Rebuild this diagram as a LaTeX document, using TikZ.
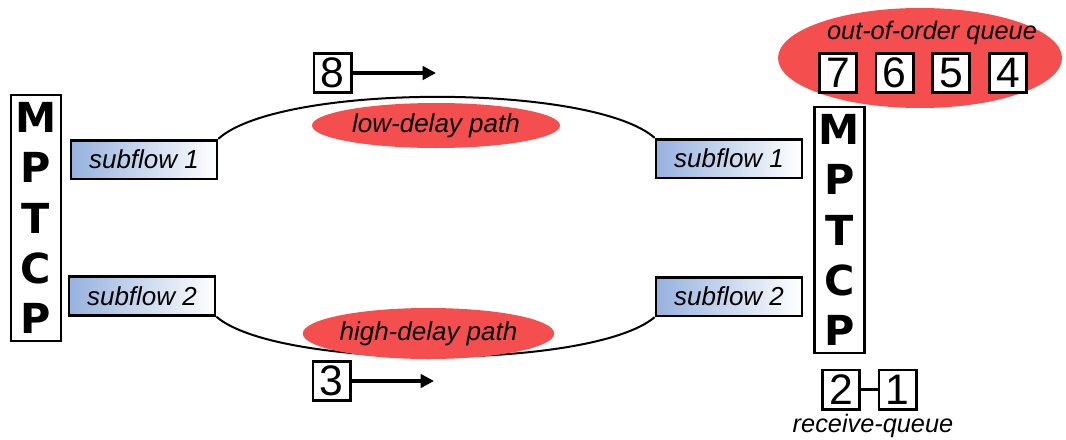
\documentclass[tikz,border=0pt]{standalone}
\usepackage{fontspec}
\setmainfont{Liberation Sans}
\newfontfamily\stackfont{DejaVu Sans}
\usetikzlibrary{shapes.geometric,arrows.meta}
\definecolor{pathred}{RGB}{245,78,78}
\definecolor{flowblue}{RGB}{150,178,222}
\tikzset{
  stackbox/.style={draw, line width=2pt, minimum width=37.5pt, minimum height=184.5pt,
    inner sep=0pt, align=center,
    font=\stackfont\bfseries\fontsize{31}{37.6}\selectfont},
  flowbox/.style={draw, line width=2pt, minimum width=109.5pt, minimum height=29pt,
    inner sep=0pt, left color=flowblue, right color=white,
    font=\itshape\fontsize{19.5}{22}\selectfont},
  pktbox/.style={draw, line width=2pt, fill=white, minimum width=28pt, minimum height=29.5pt,
    inner sep=0pt, font=\fontsize{32}{34}\selectfont},
  pathblob/.style={ellipse, fill=pathred, inner sep=0pt,
    font=\itshape\fontsize{19.5}{22}\selectfont},
  caption/.style={inner sep=0pt, font=\itshape\fontsize{19}{22}\selectfont},
  link/.style={line width=1.5pt},
  sendarrow/.style={line width=3pt, -{Triangle[length=10pt,width=10pt]}}
}
\begin{document}
\begin{tikzpicture}[x=0.75pt, y=-0.75pt]
\useasboundingbox (0,0) rectangle (1066,439);

% end points of the two connections
\node[stackbox] (mL) at (36,218) {M\\P\\T\\C\\P};
\node[stackbox] (mR) at (839.5,230) {M\\P\\T\\C\\P};

\node[flowbox] (sf1L) at (144,159.5) {subflow 1};
\node[flowbox] (sf2L) at (142,296) {subflow 2};
\node[flowbox] (sf1R) at (729,158.5) {subflow 1};
\node[flowbox] (sf2R) at (729,296.5) {subflow 2};

% the two network paths
\draw[link] (sf1L.north east) .. controls (280,83) and (592,83) .. (sf1R.north west);
\draw[link] (sf2L.south east) .. controls (278,370) and (592,370) .. (sf2R.south west);

\node[pathblob, minimum width=186pt, minimum height=33.75pt] (low) at (436,125.5) {low-delay path};
\node[pathblob, minimum width=186.75pt, minimum height=38.25pt] (high) at (428.5,333.5) {high-delay path};

% packets in flight
\node[pktbox] (p8) at (332.5,73) {8};
\coordinate (p8to) at (436,73);
\draw[sendarrow] (p8.east) -- (p8to);

\node[pktbox] (p3) at (331.5,381) {3};
\coordinate (p3to) at (434,381);
\draw[sendarrow] (p3.east) -- (p3to);

% out-of-order queue at the receiver
\node[ellipse, fill=pathred, minimum width=213pt, minimum height=75pt] (ooo) at (920,58) {};
\node[caption] (oootxt) at (932,33) {out-of-order queue};
\node[pktbox] (p7) at (838,73) {7};
\node[pktbox] (p6) at (894.5,73) {6};
\node[pktbox] (p5) at (951,73) {5};
\node[pktbox] (p4) at (1008,73) {4};

% in-order receive queue
\node[pktbox] (p2) at (841,389.5) {2};
\node[pktbox] (p1) at (897.5,389.5) {1};
\draw[line width=2pt] (p2) -- (p1);
\node[caption] (rqtxt) at (873,426) {receive-queue};
\end{tikzpicture}
\end{document}
